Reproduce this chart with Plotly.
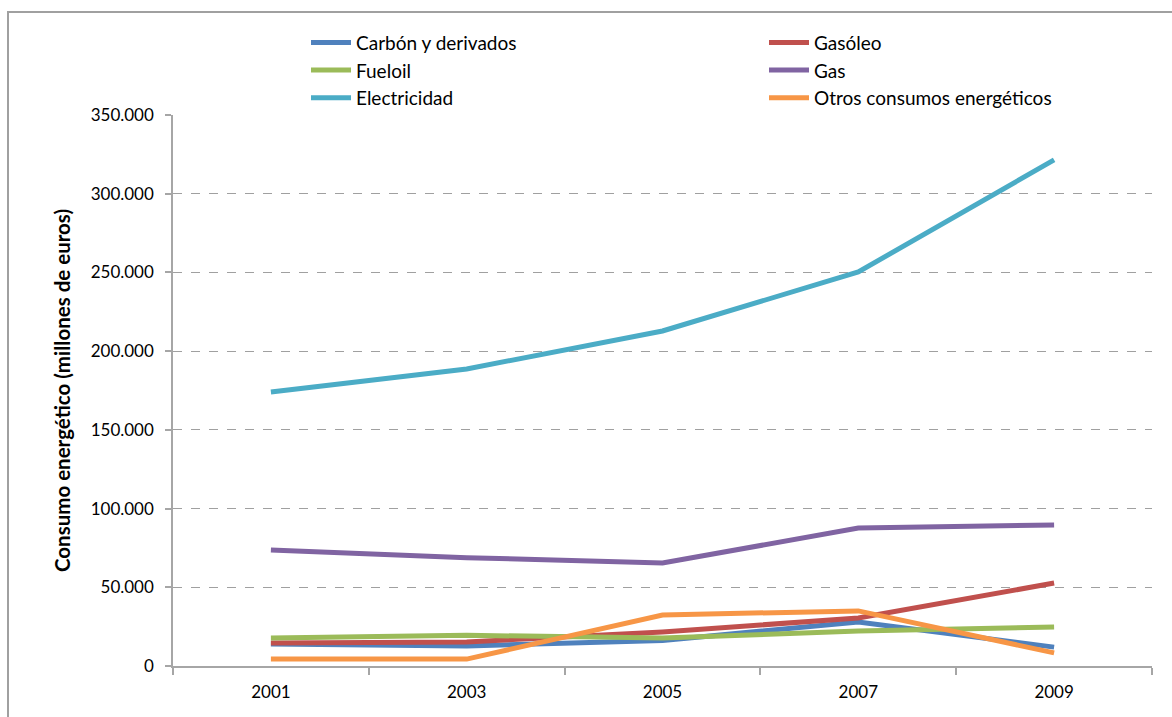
import plotly.graph_objects as go

years = [2001, 2003, 2005, 2007, 2009]
carbon = [14000, 12700, 16200, 28000, 12000]
gasoleo = [14600, 15300, 21600, 30500, 52700]
fueloil = [17800, 19500, 17800, 22200, 24800]
gas = [73700, 68800, 65400, 87700, 89600]
electricidad = [174000, 188700, 212800, 250300, 321500]
otros = [4400, 4400, 32400, 35000, 8300]

series = [
    ("Carbón y derivados", carbon, "#4F81BD", "legend"),
    ("Gasóleo", gasoleo, "#C0504D", "legend2"),
    ("Fueloil", fueloil, "#9BBB59", "legend"),
    ("Gas", gas, "#8064A2", "legend2"),
    ("Electricidad", electricidad, "#4BACC6", "legend"),
    ("Otros consumos energéticos", otros, "#F79646", "legend2"),
]

yticks = [0, 50000, 100000, 150000, 200000, 250000, 300000, 350000]
ytext = ["0", "50.000", "100.000", "150.000", "200.000", "250.000", "300.000", "350.000"]

FONT = "Lato"

fig = go.Figure()
for name, vals, col, leg in series:
    fig.add_trace(go.Scatter(x=years, y=vals, name=name, mode="lines", legend=leg,
                             line=dict(color=col, width=5)))

legend_common = dict(orientation="v", y=1.166, xanchor="left", yanchor="top",
                     traceorder="normal", font=dict(size=19, family=FONT),
                     itemwidth=40, tracegroupgap=0, bgcolor="rgba(0,0,0,0)")

fig.update_layout(
    width=1172, height=717,
    margin=dict(l=173, r=20, t=115, b=51),
    paper_bgcolor="white", plot_bgcolor="white",
    font=dict(family=FONT, size=17, color="black"),
    showlegend=True,
    legend=dict(x=(306 - 173) / 979, **legend_common),
    legend2=dict(x=(764 - 173) / 979, **legend_common),
    xaxis=dict(range=[2000, 2010], tickvals=years, ticktext=[str(y) for y in years],
               ticks="", showgrid=False, zeroline=False, showline=True,
               linecolor="#a6a6a6", linewidth=1.5, ticklabelstandoff=10,
               minor=dict(tickvals=[2000, 2002, 2004, 2006, 2008, 2010], ticks="outside",
                          ticklen=7, tickcolor="#a6a6a6", tickwidth=1.5, showgrid=False),
               tickfont=dict(size=17, family=FONT)),
    yaxis=dict(range=[0, 350000], tickvals=yticks, ticktext=ytext,
               ticks="outside", ticklen=6, tickcolor="#a6a6a6", tickwidth=1.5,
               showline=True, linecolor="#a6a6a6", linewidth=1.5, ticklabelstandoff=8,
               showgrid=True, gridcolor="#a0a0a0", griddash="dash", gridwidth=1.2,
               zeroline=False,
               title=dict(text="<b>Consumo energético (millones de euros)</b>",
                          font=dict(size=20.5, family=FONT), standoff=14),
               tickfont=dict(size=17, family=FONT)),
)

fig.add_shape(type="rect", xref="paper", yref="paper",
              x0=(8 - 173) / 979, x1=1.05, y0=-0.2, y1=(666 - 12) / 551,
              line=dict(color="#a0a0a0", width=2), fillcolor="rgba(0,0,0,0)", layer="below")

fig.write_html("out.html")
